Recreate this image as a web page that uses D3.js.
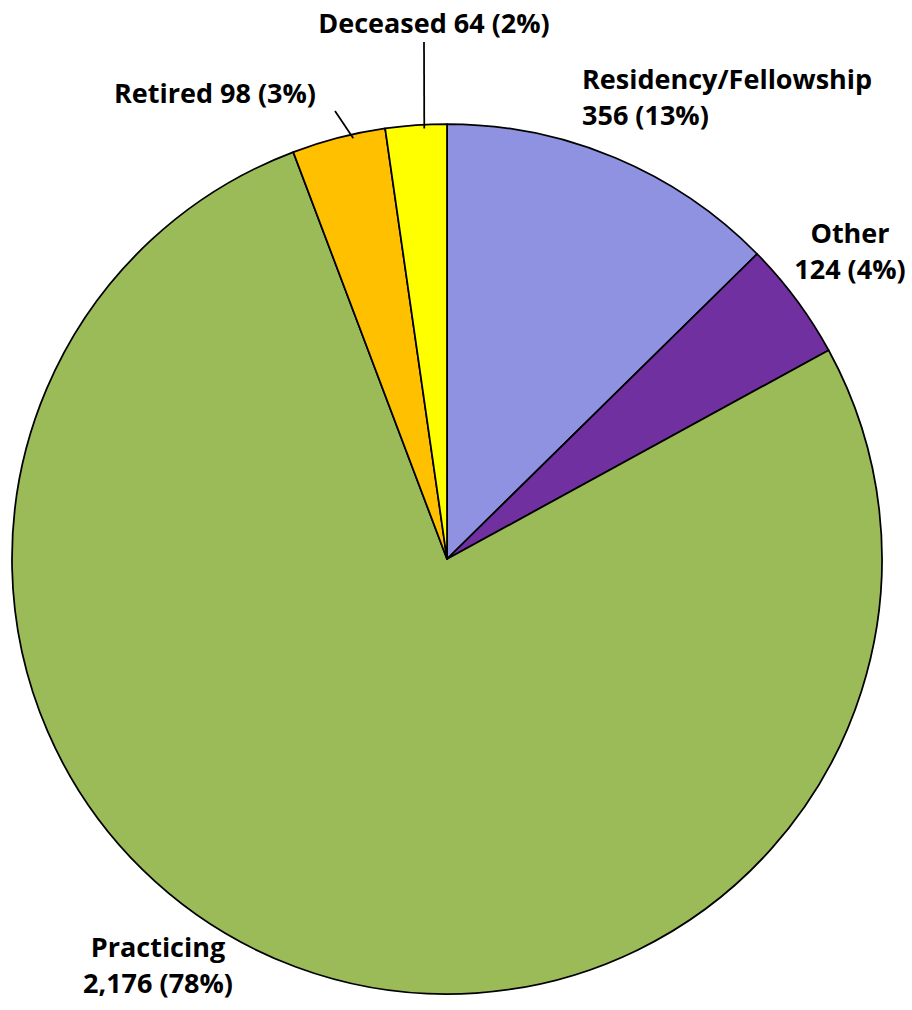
<!DOCTYPE html>
<html>
<head>
<meta charset="utf-8">
<script src="https://cdn.jsdelivr.net/npm/d3@7"></script>
<style>
  body { margin: 0; background: #fff; }
  text { font-family: "Open Sans", Lato, sans-serif; font-weight: bold; fill: #000; }
</style>
</head>
<body>
<div id="chart"></div>
<script>
// chart data, clockwise from 12 o'clock
var categories = ["Residency/Fellowship", "Other", "Practicing", "Retired", "Deceased"];
var counts = [356, 124, 2176, 98, 64];
var percents = ["13%", "4%", "78%", "3%", "2%"];
var colors = ["#8E92E0", "#7030A0", "#9BBB59", "#FFC000", "#FFFF00"];

const w = 912, h = 1010;
const cx = 447, cy = 559, r = 435;
const fontSize = 27, lineH = 36;

// label layout: lines, anchor, position, optional leader (fraction through slice)
var labelLayout = [
  {lines: 2, anchor: "start", x: 582, y: 89},
  {lines: 2, anchor: "middle", x: 850, y: 243},
  {lines: 2, anchor: "middle", x: 158, y: 957},
  {lines: 1, anchor: "middle", x: 215, y: 103, leader: {x: 335, y: 111, f: 0.65}},
  {lines: 1, anchor: "middle", x: 434, y: 33, leader: {x: 424, y: 42, f: 0.63}}
];

var data = categories.map(function(c, i) {
  return {name: c, value: counts[i], pct: percents[i], color: colors[i], layout: labelLayout[i]};
});

const svg = d3.select("#chart").append("svg")
  .attr("width", w)
  .attr("height", h);

const pie = d3.pie().value(d => d.value).sort(null);
const arc = d3.arc().innerRadius(0).outerRadius(r);
const arcs = pie(data);

const g = svg.append("g").attr("transform", "translate(" + cx + "," + cy + ")");

g.selectAll("path")
  .data(arcs)
  .enter()
  .append("path")
  .attr("d", arc)
  .attr("fill", d => d.data.color)
  .attr("stroke", "#000")
  .attr("stroke-width", 1.75)
  .attr("stroke-linejoin", "round");

// leader lines
arcs.forEach(function(a) {
  var L = a.data.layout.leader;
  if (!L) return;
  var ang = a.startAngle + L.f * (a.endAngle - a.startAngle);
  var rr = r - 4;
  svg.append("line")
    .attr("x1", L.x).attr("y1", L.y)
    .attr("x2", cx + rr * Math.sin(ang))
    .attr("y2", cy - rr * Math.cos(ang))
    .attr("stroke", "#000")
    .attr("stroke-width", 1.75);
});

// labels
var fmt = d3.format(",");
data.forEach(function(d) {
  var L = d.layout;
  var t = svg.append("text")
    .attr("text-anchor", L.anchor)
    .attr("font-size", fontSize);
  if (L.lines === 2) {
    t.append("tspan").attr("x", L.x).attr("y", L.y).text(d.name);
    t.append("tspan").attr("x", L.x).attr("y", L.y + lineH).text(fmt(d.value) + " (" + d.pct + ")");
  } else {
    t.attr("x", L.x).attr("y", L.y).text(d.name + " " + fmt(d.value) + " (" + d.pct + ")");
  }
});
</script>
</body>
</html>
